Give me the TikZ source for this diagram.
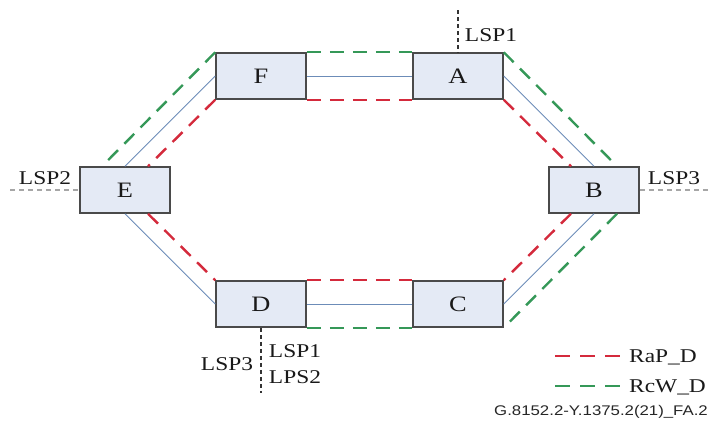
\documentclass[tikz,border=0pt]{standalone}
\usepackage{fontspec}
\setmainfont{Liberation Serif}[FakeStretch=1.2]
\newfontfamily\ftnfont{Liberation Sans}[FakeStretch=1.2]
\usetikzlibrary{calc}
\definecolor{rpred}{HTML}{D42A3C}
\definecolor{rwgreen}{HTML}{359858}
\definecolor{lnblue}{HTML}{6C8CB8}
\definecolor{boxfill}{HTML}{E4EAF5}
\definecolor{boxdraw}{HTML}{4A4A4A}
\begin{document}
\begin{tikzpicture}[x=1pt,y=-1pt,
  nodebox/.style={draw=boxdraw, fill=boxfill, line width=1.5pt, minimum width=90pt, minimum height=46pt, inner sep=0pt, font=\fontsize{22}{26}\selectfont, text=black!90},
  redl/.style={draw=rpred, line width=2.4pt, dash pattern=on 14pt off 9pt},
  greenl/.style={draw=rwgreen, line width=2.4pt, dash pattern=on 14pt off 9pt},
  bluel/.style={draw=lnblue, line width=1pt},
  graystub/.style={draw=gray!70, line width=1.8pt, dash pattern=on 5pt off 4pt},
  blackstub/.style={draw=black!80, line width=1.1pt, dash pattern=on 4pt off 3pt},
  lbl/.style={font=\fontsize{19.5}{22}\selectfont, inner sep=0pt, text=black!90}]
\useasboundingbox (0,0) rectangle (710,421);

% boxes
\node[nodebox] (F) at (261,76) {F};
\node[nodebox] (A) at (458,76) {A};
\node[nodebox] (E) at (125,190) {E};
\node[nodebox] (B) at (594,190) {B};
\node[nodebox] (D) at (261,304) {D};
\node[nodebox] (C) at (458,304) {C};

% F -- A
\draw[greenl] (F.north east) -- (A.north west);
\draw[bluel] (F.east) -- (A.west);
\draw[redl] (F.south east) -- (A.south west);
% F -- E
\draw[greenl] (F.north west) -- ($(E.north)+(-23,0)$);
\draw[bluel] (F.west) -- (E.north);
\draw[redl] (F.south west) -- ($(E.north)+(23,0)$);
% E -- D
\draw[bluel] (E.south) -- (D.west);
\draw[redl] ($(E.south)+(23,0)$) -- (D.north west);
% A -- B
\draw[greenl] (A.north east) -- ($(B.north)+(23,0)$);
\draw[bluel] (A.east) -- (B.north);
\draw[redl] (A.south east) -- ($(B.north)+(-23,0)$);
% B -- C
\draw[redl] ($(B.south)+(-23,0)$) -- (C.north east);
\draw[bluel] (B.south) -- (C.east);
\draw[greenl] ($(B.south)+(23,0)$) -- (C.south east);
% D -- C
\draw[redl] (D.north east) -- (C.north west);
\draw[bluel] (D.east) -- (C.west);
\draw[greenl] (D.south east) -- (C.south west);

% stubs
\coordinate (eL) at (10,190);
\coordinate (bR) at (710,190);
\coordinate (aT) at (A.north |- 0,10);
\coordinate (dB) at (D.south |- 0,393);
\draw[graystub] (eL) -- (E.west);
\draw[graystub] (B.east) -- (bR);
\draw[blackstub] (aT) -- (A.north);
\draw[blackstub] (D.south) -- (dB);

% labels
\node[lbl, anchor=base] (lsp2) at (45,184) {LSP2};
\node[lbl, anchor=base] (lsp3r) at (674,184) {LSP3};
\node[lbl, anchor=base] (lsp1t) at (491,41) {LSP1};
\node[lbl, anchor=base] (lsp3b) at (227,370) {LSP3};
\node[lbl, anchor=base] (lsp1b) at (295,357) {LSP1};
\node[lbl, anchor=base] (lps2b) at (295,383) {LPS2};

% legend
\coordinate (lr1) at (555,356);
\coordinate (lr2) at (620,356);
\coordinate (lg1) at (555,386);
\coordinate (lg2) at (620,386);
\draw[redl, dash pattern=on 15pt off 10pt] (lr1) -- (lr2);
\draw[greenl, dash pattern=on 15pt off 10pt] (lg1) -- (lg2);
\node[lbl, anchor=base west] (raptxt) at (629,362) {RaP\_D};
\node[lbl, anchor=base west] (rcwtxt) at (629,392) {RcW\_D};

% footnote
\node[inner sep=0pt, anchor=base east, font=\ftnfont\fontsize{14}{16}\selectfont, text=black!85] (fn) at (708,415) {G.8152.2-Y.1375.2(21)\_FA.2};
\end{tikzpicture}
\end{document}
